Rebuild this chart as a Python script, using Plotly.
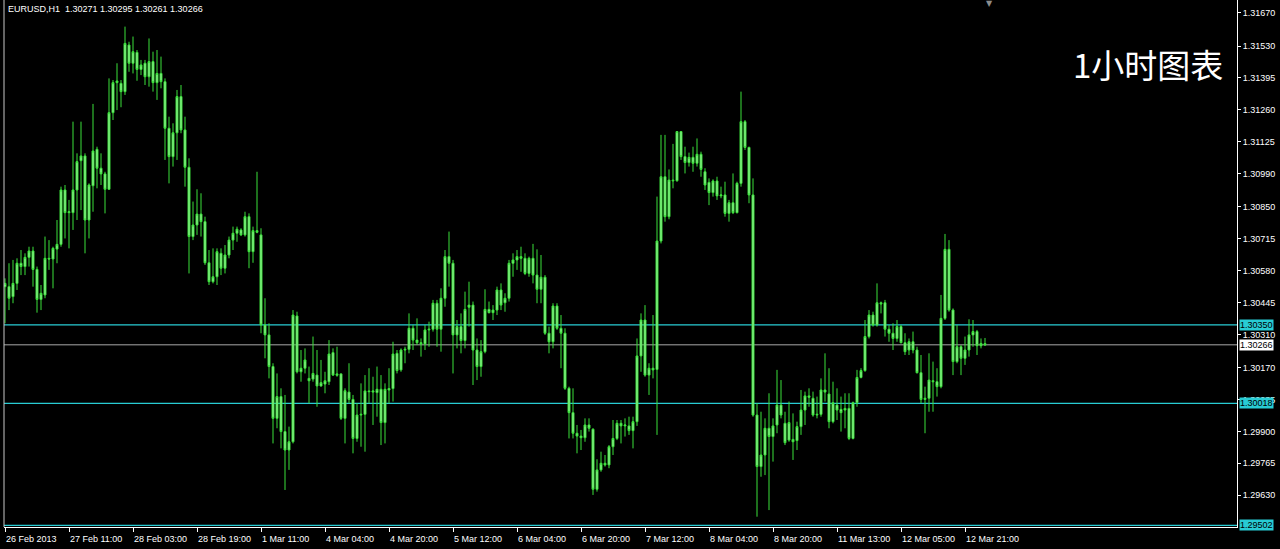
import plotly.graph_objects as go

# ---------------- data (EURUSD H1) ----------------
opens = [
    1.30512,1.30512,1.30470,1.30526,1.30611,1.30597,1.30636,1.30663,1.30585,1.30458,
    1.30477,1.30632,1.30629,1.30671,1.30691,1.30921,1.30825,1.30825,1.30921,1.31045,
    1.31065,1.30794,1.30939,1.31093,1.31013,1.30989,1.30924,1.31248,1.31375,1.31372,
    1.31337,1.31534,1.31457,1.31503,1.31431,1.31457,1.31400,1.31464,1.31375,1.31414,
    1.31379,1.31182,1.31062,1.31163,1.31316,1.31175,1.31017,1.30724,1.30773,1.30819,
    1.30787,1.30613,1.30533,1.30554,1.30653,1.30590,1.30646,1.30709,1.30738,1.30752,
    1.30731,1.30808,1.30660,1.30749,1.30731,1.30350,1.30308,1.30174,1.29955,1.30047,
    1.29899,1.29821,1.29856,1.30388,1.30152,1.30167,1.30124,1.30121,1.30138,1.30092,
    1.30100,1.30110,1.30233,1.30137,1.30143,1.29955,1.30066,1.30035,1.29870,1.29969,
    1.29972,1.30071,1.30066,1.30064,1.30078,1.29937,1.30075,1.30081,1.30230,1.30160,
    1.30244,1.30247,1.30336,1.30286,1.30275,1.30270,1.30329,1.30332,1.30442,1.30332,
    1.30463,1.30639,1.30611,1.30308,1.30343,1.30284,1.30425,1.30434,1.30244,1.30174,
    1.30237,1.30416,1.30402,1.30413,1.30498,1.30444,1.30463,1.30611,1.30625,1.30639,
    1.30632,1.30568,1.30632,1.30561,1.30501,1.30552,1.30315,1.30279,1.30430,1.30336,
    1.30315,1.30082,1.29979,1.29892,1.29880,1.29873,1.29927,1.29909,1.29655,1.29737,
    1.29765,1.29758,1.29835,1.29870,1.29934,1.29923,1.29923,1.29903,1.29941,1.30219,
    1.30371,1.30138,1.30167,1.30162,1.30705,1.30977,1.30808,1.30963,1.30960,1.31168,
    1.31062,1.31037,1.31059,1.31034,1.31072,1.30998,1.30953,1.30910,1.30959,1.30896,
    1.30900,1.30822,1.30867,1.30825,1.30949,1.31210,1.31101,1.30900,1.29969,1.29751,
    1.29800,1.29913,1.29878,1.29927,1.30011,1.29934,1.29863,1.29866,1.29861,1.29920,
    1.29990,1.30050,1.30040,1.29969,1.29972,1.30075,1.30058,1.29941,1.30011,1.29993,
    1.29990,1.29997,1.29870,1.30021,1.30128,1.30157,1.30301,1.30392,1.30350,1.30444,
    1.30444,1.30332,1.30315,1.30293,1.30343,1.30275,1.30244,1.30279,1.30244,1.30148,
    1.30035,1.30040,1.30114,1.30110,1.30089,1.30378,1.30670,1.30413,1.30195,1.30258,
    1.30209,1.30244,1.30308,1.30322,1.30262,1.30271,
]
highs = [
    1.30547,1.30611,1.30625,1.30632,1.30667,1.30653,1.30681,1.30681,1.30597,1.30519,
    1.30724,1.30709,1.30681,1.30794,1.30935,1.30942,1.30879,1.31210,1.31076,1.31210,
    1.31076,1.30949,1.31285,1.31104,1.31076,1.30998,1.31393,1.31386,1.31457,1.31386,
    1.31612,1.31548,1.31570,1.31513,1.31471,1.31471,1.31562,1.31506,1.31513,1.31485,
    1.31393,1.31231,1.31203,1.31344,1.31365,1.31231,1.31055,1.30872,1.30924,1.30907,
    1.30808,1.30667,1.30674,1.30674,1.30674,1.30688,1.30724,1.30766,1.30766,1.30759,
    1.30829,1.30822,1.30766,1.30998,1.30759,1.30463,1.30357,1.30188,1.30145,1.30082,
    1.30054,1.29920,1.30413,1.30406,1.30244,1.30251,1.30174,1.30301,1.30244,1.30202,
    1.30152,1.30286,1.30251,1.30258,1.30145,1.30082,1.30188,1.30054,1.30019,1.30103,
    1.30138,1.30167,1.30131,1.30174,1.30138,1.30103,1.30167,1.30279,1.30244,1.30251,
    1.30258,1.30399,1.30350,1.30378,1.30293,1.30350,1.30364,1.30456,1.30456,1.30505,
    1.30667,1.30745,1.30625,1.30371,1.30399,1.30491,1.30533,1.30449,1.30293,1.30286,
    1.30501,1.30449,1.30434,1.30512,1.30526,1.30484,1.30625,1.30653,1.30667,1.30681,
    1.30653,1.30639,1.30693,1.30670,1.30646,1.30561,1.30343,1.30442,1.30442,1.30392,
    1.30336,1.30089,1.30082,1.29927,1.29906,1.29955,1.29955,1.29913,1.29782,1.29814,
    1.29800,1.29842,1.29948,1.29948,1.29948,1.29955,1.29962,1.29962,1.30293,1.30399,
    1.30434,1.30188,1.30392,1.30893,1.31154,1.31154,1.31008,1.31116,1.31168,1.31168,
    1.31104,1.31079,1.31104,1.31139,1.31083,1.31013,1.30970,1.30966,1.30977,1.30935,
    1.30956,1.30879,1.30991,1.30956,1.31337,1.31217,1.31104,1.30970,1.30019,1.29983,
    1.29955,1.30061,1.29955,1.30160,1.30117,1.29983,1.30026,1.29976,1.29941,1.30075,
    1.30068,1.30082,1.30068,1.30047,1.30124,1.30230,1.30167,1.30110,1.30082,1.30047,
    1.30061,1.30061,1.30026,1.30160,1.30167,1.30371,1.30413,1.30406,1.30526,1.30449,
    1.30456,1.30350,1.30357,1.30371,1.30350,1.30315,1.30293,1.30322,1.30258,1.30223,
    1.30089,1.30230,1.30195,1.30167,1.30477,1.30735,1.30709,1.30420,1.30350,1.30265,
    1.30301,1.30374,1.30371,1.30329,1.30293,1.30295,
]
lows = [
    1.30357,1.30413,1.30442,1.30498,1.30561,1.30561,1.30597,1.30512,1.30402,1.30413,
    1.30463,1.30583,1.30505,1.30611,1.30681,1.30716,1.30674,1.30752,1.30794,1.30836,
    1.30653,1.30716,1.30829,1.30928,1.30942,1.30822,1.30921,1.31217,1.31259,1.31271,
    1.31323,1.31421,1.31414,1.31383,1.31407,1.31365,1.31358,1.31337,1.31302,1.31351,
    1.31048,1.30949,1.31020,1.31048,1.31161,1.30935,1.30568,1.30709,1.30731,1.30724,
    1.30604,1.30519,1.30526,1.30519,1.30561,1.30568,1.30632,1.30667,1.30702,1.30726,
    1.30724,1.30590,1.30613,1.30738,1.30315,1.30209,1.30124,1.29849,1.29913,1.29828,
    1.29652,1.29737,1.29849,1.30145,1.30110,1.30145,1.30019,1.30110,1.30004,1.30089,
    1.30061,1.30096,1.30134,1.30131,1.29948,1.29849,1.30019,1.29807,1.29856,1.29835,
    1.29814,1.30019,1.29927,1.29962,1.29842,1.29849,1.30019,1.30026,1.30145,1.30152,
    1.30188,1.30230,1.30244,1.30265,1.30216,1.30244,1.30258,1.30322,1.30258,1.30237,
    1.30427,1.30512,1.30145,1.30251,1.30230,1.30251,1.30343,1.30096,1.30117,1.30131,
    1.30230,1.30399,1.30371,1.30392,1.30413,1.30406,1.30449,1.30554,1.30583,1.30575,
    1.30561,1.30554,1.30526,1.30442,1.30442,1.30308,1.30230,1.30251,1.30329,1.30167,
    1.30075,1.29870,1.29870,1.29807,1.29821,1.29856,1.29899,1.29631,1.29645,1.29729,
    1.29751,1.29744,1.29800,1.29863,1.29849,1.29878,1.29885,1.29828,1.29923,1.30152,
    1.30131,1.30054,1.30124,1.29885,1.30695,1.30787,1.30797,1.30928,1.30956,1.31048,
    1.30991,1.31020,1.30998,1.31020,1.30977,1.30921,1.30857,1.30893,1.30879,1.30886,
    1.30808,1.30787,1.30819,1.30822,1.30935,1.31090,1.30865,1.29962,1.29539,1.29708,
    1.29715,1.29567,1.29772,1.29892,1.29955,1.29842,1.29856,1.29779,1.29821,1.29885,
    1.29927,1.30004,1.29962,1.29955,1.29962,1.30026,1.29913,1.29934,1.29948,1.29899,
    1.29913,1.29863,1.29866,1.30004,1.30124,1.30152,1.30293,1.30343,1.30343,1.30399,
    1.30301,1.30279,1.30244,1.30279,1.30272,1.30223,1.30223,1.30230,1.30145,1.30019,
    1.29892,1.29983,1.29983,1.30047,1.30082,1.30371,1.30406,1.30138,1.30188,1.30138,
    1.30181,1.30216,1.30258,1.30223,1.30251,1.30261,
]
closes = [
    1.30526,1.30463,1.30526,1.30611,1.30597,1.30636,1.30663,1.30585,1.30458,1.30484,
    1.30632,1.30629,1.30674,1.30691,1.30921,1.30825,1.30829,1.30921,1.31041,1.31065,
    1.30794,1.30942,1.31086,1.31013,1.30989,1.30924,1.31248,1.31375,1.31382,1.31337,
    1.31541,1.31457,1.31506,1.31431,1.31450,1.31400,1.31464,1.31375,1.31414,1.31379,
    1.31182,1.31062,1.31163,1.31316,1.31175,1.31017,1.30724,1.30773,1.30819,1.30787,
    1.30613,1.30533,1.30554,1.30660,1.30590,1.30646,1.30709,1.30738,1.30755,1.30731,
    1.30808,1.30660,1.30749,1.30742,1.30350,1.30308,1.30174,1.29955,1.30047,1.29899,
    1.29821,1.29856,1.30392,1.30152,1.30167,1.30202,1.30114,1.30145,1.30092,1.30106,
    1.30114,1.30227,1.30138,1.30143,1.29955,1.30072,1.30035,1.29870,1.29969,1.29972,
    1.30071,1.30068,1.30071,1.30078,1.29937,1.30078,1.30081,1.30227,1.30157,1.30244,
    1.30247,1.30336,1.30286,1.30275,1.30270,1.30329,1.30332,1.30442,1.30332,1.30463,
    1.30639,1.30611,1.30308,1.30343,1.30284,1.30416,1.30434,1.30244,1.30174,1.30237,
    1.30416,1.30402,1.30413,1.30498,1.30434,1.30463,1.30611,1.30625,1.30639,1.30632,
    1.30568,1.30632,1.30561,1.30501,1.30552,1.30315,1.30279,1.30430,1.30336,1.30315,
    1.30082,1.29979,1.29892,1.29880,1.29873,1.29927,1.29913,1.29655,1.29737,1.29765,
    1.29758,1.29835,1.29870,1.29934,1.29923,1.29927,1.29903,1.29941,1.30219,1.30371,
    1.30138,1.30167,1.30160,1.30705,1.30977,1.30808,1.30963,1.30960,1.31168,1.31062,
    1.31037,1.31059,1.31034,1.31072,1.31008,1.30942,1.30910,1.30959,1.30896,1.30900,
    1.30822,1.30867,1.30825,1.30949,1.31210,1.31101,1.30900,1.29969,1.29751,1.29800,
    1.29913,1.29878,1.29923,1.30011,1.29969,1.29852,1.29937,1.29856,1.29920,1.29990,
    1.30050,1.30044,1.29969,1.29972,1.30075,1.30066,1.29941,1.30021,1.29990,1.29979,
    1.29997,1.29870,1.30021,1.30128,1.30157,1.30301,1.30392,1.30350,1.30444,1.30439,
    1.30332,1.30315,1.30293,1.30343,1.30275,1.30237,1.30279,1.30244,1.30148,1.30035,
    1.30040,1.30117,1.30110,1.30089,1.30378,1.30670,1.30413,1.30195,1.30258,1.30209,
    1.30244,1.30308,1.30322,1.30262,1.30272,1.30266,
]

time_labels = ["26 Feb 2013", "27 Feb 11:00", "28 Feb 03:00", "28 Feb 19:00",
               "1 Mar 11:00", "4 Mar 04:00", "4 Mar 20:00", "5 Mar 12:00",
               "6 Mar 04:00", "6 Mar 20:00", "7 Mar 12:00", "8 Mar 04:00",
               "8 Mar 20:00", "11 Mar 13:00", "12 Mar 05:00", "12 Mar 21:00"]
label_step = 16

price_ticks = [1.31670, 1.31530, 1.31395, 1.31260, 1.31125, 1.30990, 1.30850,
               1.30715, 1.30580, 1.30445, 1.30310, 1.30170, 1.30035, 1.29900,
               1.29765, 1.29630]
level_lines = [1.30350, 1.30018, 1.29502]
bid_price = 1.30266
header = "EURUSD,H1\u00a0\u00a01.30271 1.30295 1.30261 1.30266"
title_cn = "1小时图表"

y_range = [1.294954, 1.317246]
x_range = [-0.25, 308.0]
shift_marker_bar = 246

# ---------------- figure ----------------
bars = list(range(len(closes)))
candle_line = "#3BE03B"
candle_fill = "#A6F5A6"

fig = go.Figure()
fig.add_trace(go.Candlestick(
    x=bars, open=opens, high=highs, low=lows, close=closes,
    increasing=dict(line=dict(color=candle_line, width=1), fillcolor=candle_fill),
    decreasing=dict(line=dict(color=candle_line, width=1), fillcolor=candle_fill),
    whiskerwidth=0, showlegend=False, hoverinfo="skip",
))

cyan = "#28CCD4"
for lv in level_lines:
    fig.add_shape(type="line", xref="paper", x0=0, x1=1, yref="y", y0=lv, y1=lv,
                  line=dict(color=cyan, width=1.2), layer="below")
fig.add_shape(type="line", xref="paper", x0=0, x1=1, yref="y", y0=bid_price, y1=bid_price,
              line=dict(color="#A8A8A8", width=1), layer="below")
# left frame line
fig.add_shape(type="line", xref="paper", x0=0, x1=0, yref="paper", y0=0, y1=1,
              line=dict(color="#C8C8C8", width=1))

font_family = "Liberation Sans, Arial, sans-serif"
for lv in level_lines:
    fig.add_annotation(xref="paper", x=1, yref="y", y=lv, text=f"{lv:.5f}",
                       showarrow=False, xanchor="left", yanchor="middle", xshift=2,
                       bgcolor=cyan, borderpad=0,
                       font=dict(color="#000000", family=font_family, size=9))
fig.add_annotation(xref="paper", x=1, yref="y", y=bid_price, text=f"{bid_price:.5f}",
                   showarrow=False, xanchor="left", yanchor="middle", xshift=2,
                   bgcolor="#FFFFFF", borderpad=0,
                   font=dict(color="#000000", family=font_family, size=9))

fig.add_annotation(xref="paper", yref="paper", x=0, y=1, xanchor="left", yanchor="top",
                   xshift=2, yshift=-2, text=header, showarrow=False,
                   font=dict(family=font_family, size=9, color="#FFFFFF"))
fig.add_annotation(xref="paper", yref="paper", x=0.99, y=0.878, xanchor="right",
                   yanchor="middle", text=title_cn, showarrow=False,
                   font=dict(family="Noto Sans CJK SC", size=33, color="#FFFFFF"))
# chart-shift marker at top
fig.add_annotation(xref="x", yref="paper", x=shift_marker_bar, y=1, xanchor="center",
                   yanchor="top", yshift=3, text="\u25BC", showarrow=False,
                   font=dict(family="DejaVu Sans", size=8, color="#8C8C8C"))

fig.update_layout(
    width=1280, height=549,
    margin=dict(l=4, r=43, t=0, b=22, autoexpand=False),
    paper_bgcolor="#000000", plot_bgcolor="#000000",
    showlegend=False,
    xaxis=dict(
        range=x_range, rangeslider=dict(visible=False), showgrid=False, zeroline=False,
        automargin=False,
        tickmode="array", tickvals=[i * label_step for i in range(len(time_labels))],
        ticktext=time_labels, ticks="outside", ticklen=4, tickcolor="#FFFFFF",
        ticklabelposition="outside right", ticklabelstandoff=3,
        tickfont=dict(family=font_family, size=9, color="#FFFFFF"),
        showline=True, linecolor="#FFFFFF", linewidth=1,
    ),
    yaxis=dict(
        range=y_range, side="right", showgrid=False, zeroline=False,
        automargin=False,
        tickmode="array", tickvals=price_ticks, ticktext=[f"{v:.5f}" for v in price_ticks],
        ticks="outside", ticklen=3, tickcolor="#FFFFFF",
        tickfont=dict(color="#FFFFFF", family=font_family, size=9),
        showline=True, linecolor="#FFFFFF", linewidth=1,
    ),
)

fig.write_html(
    "out.html",
    config={"displayModeBar": False},
    post_script="document.body.style.margin='0';document.body.style.background='#000';",
)
